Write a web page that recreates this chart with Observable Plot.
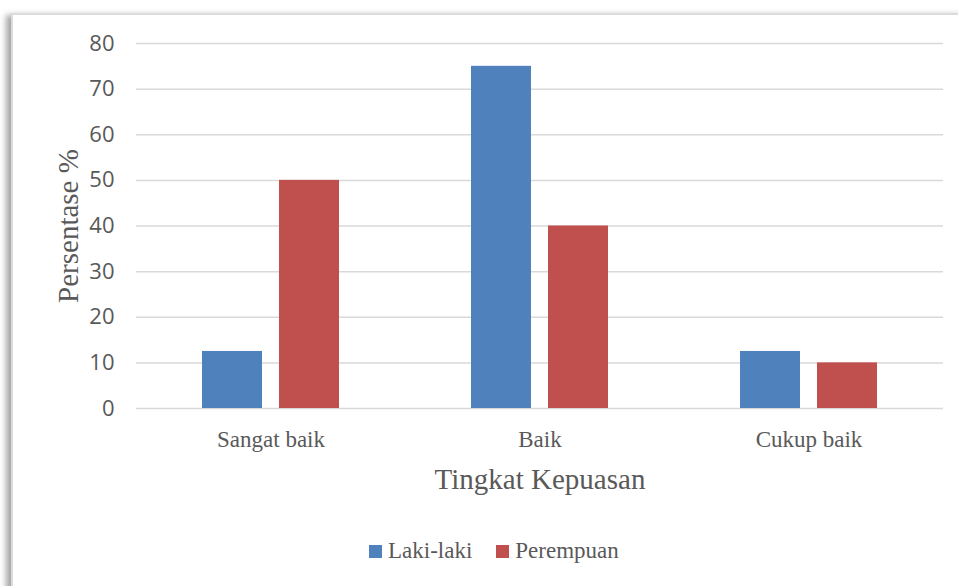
<!DOCTYPE html>
<html>
<head>
<meta charset="utf-8">
<script src="https://cdn.jsdelivr.net/npm/d3@7"></script>
<script src="https://cdn.jsdelivr.net/npm/@observablehq/plot@0.6"></script>
<style>
  html, body { margin: 0; padding: 0; background: #fff; }
  body { width: 958px; height: 586px; position: relative; overflow: hidden; }
  #frame { position: absolute; left: 11px; top: 13px; width: 1000px; height: 640px;
    border: 2px solid #dcdcdc; box-shadow: -5px 2px 6px rgba(0,0,0,0.35); background: #fff; }
  #chart { position: absolute; left: 0; top: 0; }
  #chart svg { overflow: visible; }
  g[aria-label="y-axis tick label"] text { font-family: "Open Sans", sans-serif; font-size: 22px; fill: #595959; }
  g[aria-label="fx-axis tick label"] text { font-family: "Liberation Serif", serif; font-size: 23px; fill: #595959; }
  g[aria-label="fx-axis label"] text, g[aria-label="y-axis label"] text { font-family: "Liberation Serif", serif; font-size: 29px; fill: #595959; }
  #legend { position: absolute; left: 369px; top: 538px; font-family: "Liberation Serif", serif; font-size: 23px; color: #595959; display: flex; align-items: center; white-space: nowrap; }
  #legend .sw { display: inline-block; width: 13px; height: 13px; margin-right: 6px; }
  #legend .item { display: flex; align-items: center; margin-right: 24px; }
</style>
</head>
<body>
<div id="frame"></div>
<div id="chart"></div>
<div id="legend"></div>
<script>
const categories = ["Sangat baik", "Baik", "Cukup baik"];
const seriesNames = ["Laki-laki", "Perempuan"];
const lakiValues = [12.5, 75, 12.5];
const perempuanValues = [50, 40, 10];
const yTicks = [0, 10, 20, 30, 40, 50, 60, 70, 80];
const colors = ["#4f81bd", "#c0504d"];

const data = [];
categories.forEach((c, i) => {
  data.push({category: c, series: seriesNames[0], value: lakiValues[i]});
  data.push({category: c, series: seriesNames[1], value: perempuanValues[i]});
});

const chart = Plot.plot({
  width: 958,
  height: 515,
  marginLeft: 135,
  marginRight: 15,
  marginTop: 43,
  marginBottom: 107,
  style: {background: "transparent"},
  fx: {domain: categories, padding: 0},
  x: {domain: seriesNames, axis: null, paddingInner: 0.221, paddingOuter: 0.857},
  y: {domain: [0, 80]},
  color: {domain: seriesNames, range: colors},
  marks: [
    Plot.ruleY(yTicks, {stroke: "#d9d9d9", strokeWidth: 1.5}),
    Plot.barY(data, {fx: "category", x: "series", y: "value", fill: "series"}),
    Plot.axisY({ticks: yTicks, tickSize: 0, tickPadding: 22, label: "Persentase %", labelAnchor: "center", labelArrow: "none", labelOffset: 79}),
    Plot.axisFx({anchor: "bottom", tickSize: 0, tickPadding: 22, label: "Tingkat Kepuasan", labelAnchor: "center", labelArrow: "none", labelOffset: 80})
  ]
});
document.getElementById("chart").appendChild(chart);

const legend = document.getElementById("legend");
seriesNames.forEach((s, i) => {
  const item = document.createElement("span");
  item.className = "item";
  const sw = document.createElement("span");
  sw.className = "sw";
  sw.style.background = colors[i];
  item.appendChild(sw);
  item.appendChild(document.createTextNode(s));
  legend.appendChild(item);
});
</script>
</body>
</html>
